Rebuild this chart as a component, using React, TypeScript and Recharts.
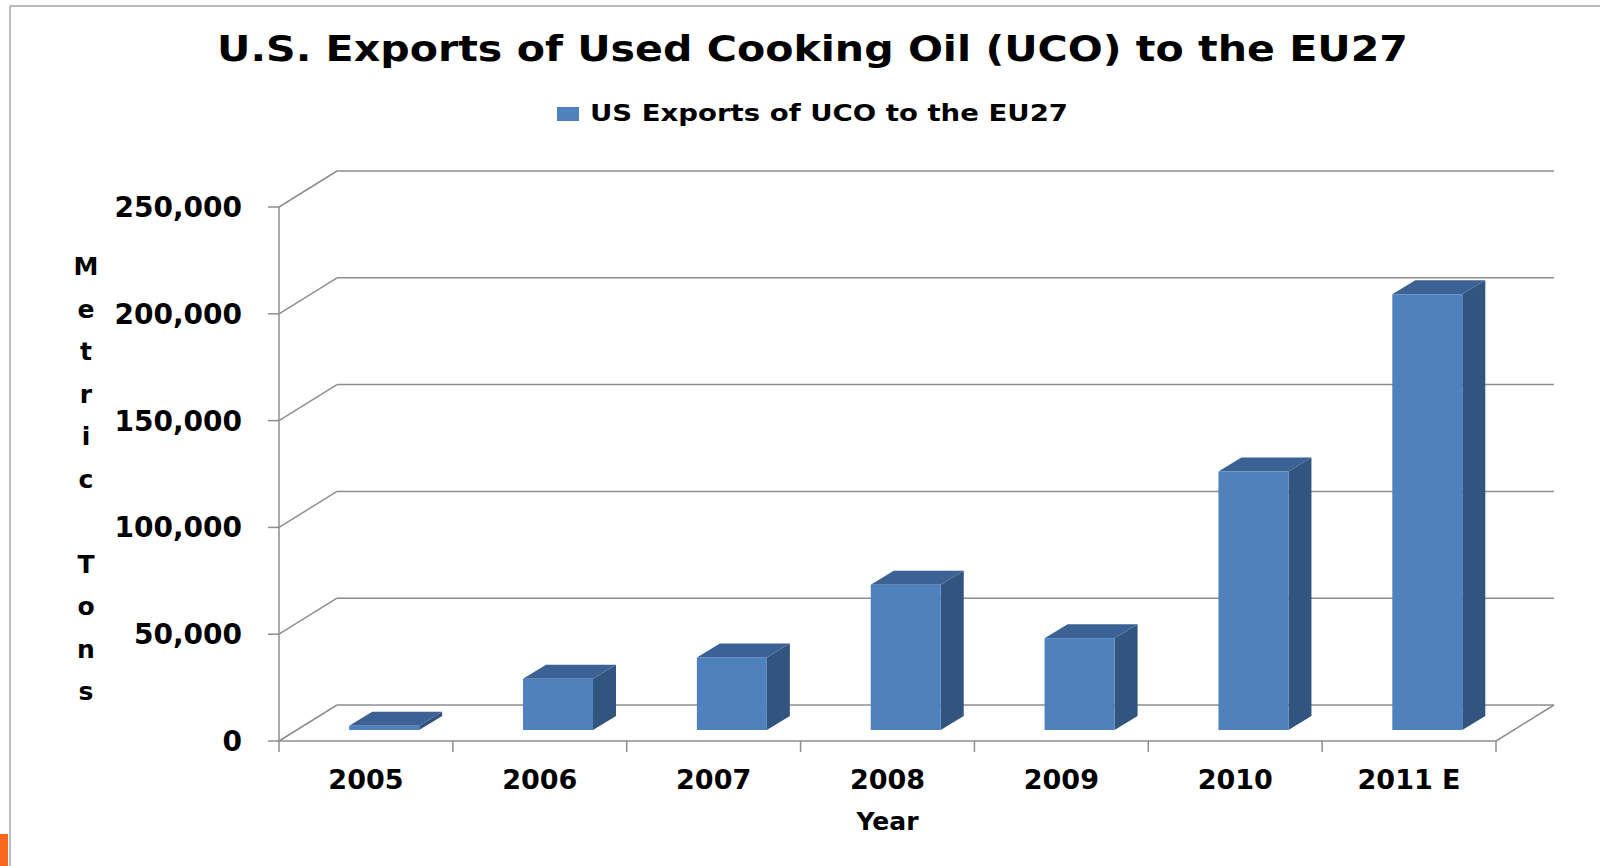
import React from 'react';
import { BarChart, Bar, XAxis, YAxis, CartesianGrid, Legend } from 'recharts';

// ---------- data ----------
const categories = ['2005', '2006', '2007', '2008', '2009', '2010', '2011 E'];
const exportsValues = [2000, 24000, 34000, 68000, 43000, 121000, 204000];
const yTicks = [0, 50000, 100000, 150000, 200000, 250000];
const seriesName = 'US Exports of UCO to the EU27';
const chartTitle = 'U.S. Exports of Used Cooking Oil (UCO) to the EU27';
const yAxisTitle = 'Metric Tons';
const xAxisTitle = 'Year';

const data = categories.map((c, i) => ({ year: c, value: exportsValues[i] }));

// ---------- layout / style ----------
const W = 1600;
const H = 866;
const PLOT_LEFT = 279;
const PLOT_RIGHT = 1496;
const PLOT_TOP = 207;
const PLOT_BOTTOM = 741;
const Y_AXIS_W = 160;
const X_AXIS_H = 60;
const DEPTH_DX = 58;
const DEPTH_DY = 36;
const BAR_DX = 18;
const BAR_DY = 11;
const BAR_DEPTH_DX = 23;
const BAR_DEPTH_DY = 14;
const FRONT = '#4F81BD';
const TOP = '#3B6195';
const SIDE = '#32557F';
const GRID = '#8E8E8E';
const FONT = '"DejaVu Sans", Verdana, sans-serif';

const fmt = (v: number) => v.toLocaleString('en-US');

const Box3D = (props: any) => {
  const { x, y, width, height } = props;
  if (x == null || y == null) return null;
  const fx = x + BAR_DX;
  const fy = y - BAR_DY;
  const top = `M${fx},${fy} L${fx + BAR_DEPTH_DX},${fy - BAR_DEPTH_DY} L${fx + width + BAR_DEPTH_DX},${fy - BAR_DEPTH_DY} L${fx + width},${fy} Z`;
  const side = `M${fx + width},${fy} L${fx + width + BAR_DEPTH_DX},${fy - BAR_DEPTH_DY} L${fx + width + BAR_DEPTH_DX},${fy + height - BAR_DEPTH_DY} L${fx + width},${fy + height} Z`;
  return (
    <g>
      <path d={side} fill={SIDE} />
      <path d={top} fill={TOP} />
      <rect x={fx} y={fy} width={width} height={Math.max(height, 0)} fill={FRONT} />
    </g>
  );
};

const GridLine = (p: any) => {
  const { x1, y1, x2 } = p;
  const isFloor = Math.abs(y1 - PLOT_BOTTOM) < 1;
  return (
    <g key={p.key}>
      <line x1={x1} y1={y1} x2={x1 + DEPTH_DX} y2={y1 - DEPTH_DY} stroke={GRID} strokeWidth={1.5} />
      <line x1={x1 + DEPTH_DX} y1={y1 - DEPTH_DY} x2={x2 + DEPTH_DX} y2={y1 - DEPTH_DY} stroke={GRID} strokeWidth={1.5} />
      {isFloor && (
        <line x1={x2} y1={y1} x2={x2 + DEPTH_DX} y2={y1 - DEPTH_DY} stroke={GRID} strokeWidth={1.5} />
      )}
    </g>
  );
};

const XTick = (props: any) => {
  const { x, y, payload, index } = props;
  const half = (PLOT_RIGHT - PLOT_LEFT) / categories.length / 2;
  const last = index === categories.length - 1;
  return (
    <g>
      <line x1={x - half} y1={y} x2={x - half} y2={y + 11} stroke={GRID} strokeWidth={1.5} />
      {last && <line x1={x + half} y1={y} x2={x + half} y2={y + 11} stroke={GRID} strokeWidth={1.5} />}
      <text x={x} y={y + 48} textAnchor="middle" fontFamily={FONT} fontWeight="bold" fontSize={27} fill="#000">
        {payload.value}
      </text>
    </g>
  );
};

const YTick = (props: any) => {
  const { x, y, payload } = props;
  return (
    <text x={x} y={y} dy="0.36em" textAnchor="end" fontFamily={FONT} fontWeight="bold" fontSize={28} fill="#000">
      {fmt(payload.value)}
    </text>
  );
};

const YTitle = () => (
  <g>
    {yAxisTitle.split('').map((ch, i) => (
      <text key={i} x={86} y={275 + i * 42.5} textAnchor="middle" fontFamily={FONT} fontWeight="bold" fontSize={25} fill="#000">
        {ch}
      </text>
    ))}
  </g>
);

const XTitle = (props: any) => {
  const vb = props.viewBox || {};
  const cx = (vb.x ?? PLOT_LEFT) + (vb.width ?? PLOT_RIGHT - PLOT_LEFT) / 2;
  return (
    <text x={cx} y={PLOT_BOTTOM + 89} textAnchor="middle" fontFamily={FONT} fontWeight="bold" fontSize={25} fill="#000">
      {xAxisTitle}
    </text>
  );
};

const renderLegend = (props: any) => {
  const item = props.payload && props.payload[0];
  return (
    <svg width={W} height={40} style={{ display: 'block' }}>
      <rect x={557} y={17} width={22} height={14} fill={(item && item.color) || FRONT} />
      <text x={590} y={31} fontFamily={FONT} fontWeight="bold" fontSize={23} fill="#000" textLength={478} lengthAdjust="spacingAndGlyphs">
        {(item && item.value) || seriesName}
      </text>
    </svg>
  );
};

export default function App() {
  return (
    <div style={{ position: 'absolute', left: 0, top: 0, width: W, height: H, background: '#fff', overflow: 'hidden' }}>
      <svg width={W} height={H} style={{ position: 'absolute', left: 0, top: 0 }}>
        <line x1={10} y1={6} x2={W} y2={6} stroke="#A6A6A6" strokeWidth={1.5} />
        <line x1={10} y1={6} x2={10} y2={H} stroke="#A6A6A6" strokeWidth={1.5} />
        <rect x={0} y={834} width={8} height={32} fill="#F7681E" />
        <text x={217} y={61} fontFamily={FONT} fontWeight="bold" fontSize={35} fill="#000" textLength={1191} lengthAdjust="spacingAndGlyphs">
          {chartTitle}
        </text>
      </svg>
      <div style={{ position: 'absolute', left: 0, top: 0 }}>
        <BarChart
          width={W}
          height={H}
          data={data}
          margin={{ top: PLOT_TOP, left: PLOT_LEFT - Y_AXIS_W, right: W - PLOT_RIGHT, bottom: H - PLOT_BOTTOM - X_AXIS_H }}
          barCategoryGap="30%"
        >
          <CartesianGrid vertical={false} horizontal={GridLine as any} stroke={GRID} />
          <XAxis
            dataKey="year"
            height={X_AXIS_H}
            interval={0}
            axisLine={{ stroke: GRID, strokeWidth: 1.5 }}
            tickLine={false}
            tickSize={0}
            tickMargin={0}
            tick={<XTick />}
            label={{ content: <XTitle /> } as any}
          />
          <YAxis
            width={Y_AXIS_W}
            domain={[0, 250000]}
            ticks={yTicks}
            interval={0}
            tickSize={11}
            tickMargin={26}
            axisLine={{ stroke: GRID, strokeWidth: 1.5 }}
            tickLine={{ stroke: GRID, strokeWidth: 1.5 }}
            tick={<YTick />}
            label={{ content: <YTitle /> } as any}
          />
          <Legend verticalAlign="middle" content={renderLegend} wrapperStyle={{ top: 90, left: 0, width: W, height: 40 }} />
          <Bar dataKey="value" name={seriesName} fill={FRONT} shape={<Box3D />} isAnimationActive={false} legendType="square" />
        </BarChart>
      </div>
    </div>
  );
}
